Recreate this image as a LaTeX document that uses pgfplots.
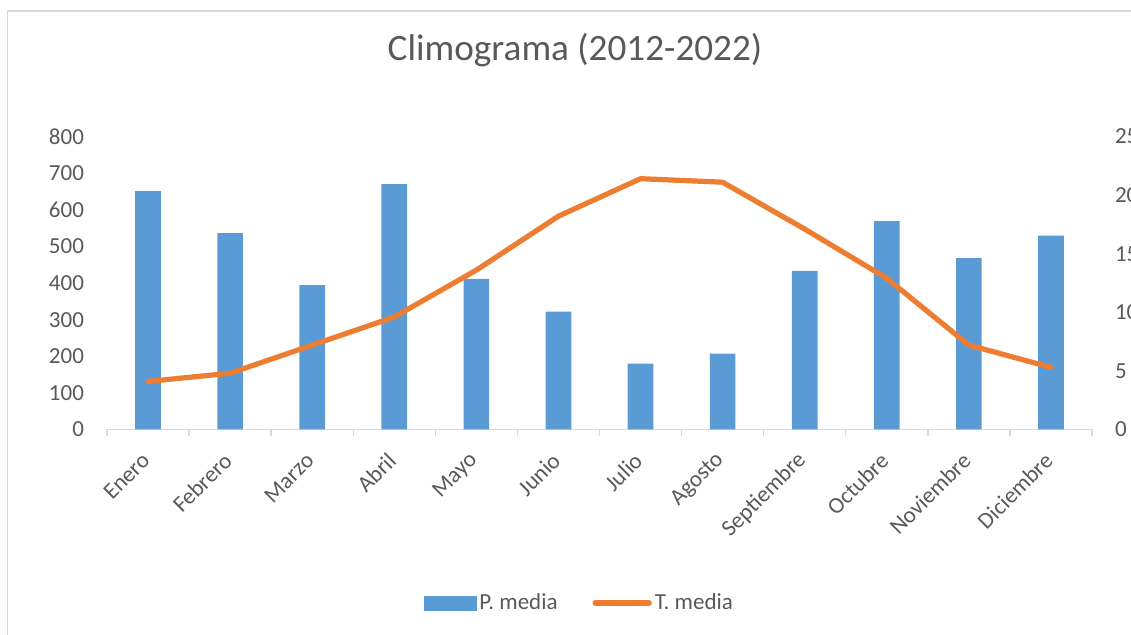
\documentclass[border=0pt]{standalone}
\usepackage{pgfplots}
\pgfplotsset{compat=1.18}
\usepackage{pgfplotstable}
\usepackage{fontspec}
\setmainfont{Carlito}
\definecolor{barblue}{HTML}{5B9BD5}
\definecolor{lineorange}{HTML}{ED7D31}
\definecolor{txtgray}{HTML}{595959}
\definecolor{axgray}{HTML}{D9D9D9}

\pgfplotstableread{
x P T
0 651 4.1
1 536 4.8
2 394 7.2
3 670 9.6
4 411 13.6
5 322 18.2
6 180 21.4
7 207 21.1
8 433 17.1
9 569 12.9
10 468 7.2
11 529 5.3
}\datatable

\begin{document}
\begin{tikzpicture}
\useasboundingbox (0,0) rectangle (565.5pt,317.5pt);
\clip (0,0) rectangle (565.5pt,317.5pt);
\draw[axgray, line width=0.7pt] (3.75pt,-5pt) -- (3.75pt,312pt) -- (570pt,312pt);
\node[txtgray, anchor=base, inner sep=0pt, font=\fontsize{18.6pt}{22pt}\selectfont] at (287.5pt, 287pt) {Climograma (2012-2022)};

\begin{axis}[
 at={(53.5pt,102.75pt)}, anchor=south west,
 scale only axis, width=492.5pt, height=146.5pt,
 xmin=-0.5, xmax=11.5, ymin=0, ymax=800,
 axis x line*=bottom, axis y line*=left,
 y axis line style={draw=none},
 x axis line style={axgray, line width=0.7pt, -},
 ytick={0,100,...,800},
 xtick={0,...,11},
 xticklabels={Enero,Febrero,Marzo,Abril,Mayo,Junio,Julio,Agosto,Septiembre,Octubre,Noviembre,Diciembre},
 major tick length=0pt,
 minor xtick={-0.5,0.5,...,11.5},
 minor tick length=3.5pt,
 tick align=outside,
 minor tick style={axgray, line width=0.7pt},
 ticklabel style={txtgray, font=\fontsize{11.5pt}{13pt}\selectfont},
 /pgf/number format/assume math mode=true,
 yticklabel style={xshift=-8pt},
 xticklabel style={rotate=45, anchor=east, xshift=-7pt, yshift=-8.9pt},
 ybar, bar width=12.8pt,
 clip=false,
]
\addplot[fill=barblue, draw=none] table[x=x,y=P]{\datatable};
\end{axis}

\begin{axis}[
 at={(53.5pt,102.75pt)}, anchor=south west,
 scale only axis, width=492.5pt, height=146.5pt,
 xmin=-0.5, xmax=11.5, ymin=0, ymax=25,
 axis x line=none, axis y line*=right,
 y axis line style={draw=none},
 ytick={0,5,...,25},
 major tick length=0pt,
 ticklabel style={txtgray, font=\fontsize{11.5pt}{13pt}\selectfont},
 /pgf/number format/assume math mode=true,
 yticklabel style={xshift=8pt},
 clip=false,
 legend columns=2,
 legend style={at={(0.480,-0.592)}, anchor=center, draw=none, fill=none,
   font=\fontsize{11.5pt}{13pt}\selectfont, text=txtgray,
   /tikz/every even column/.append style={column sep=16pt},
   nodes={inner sep=1.5pt}},
 legend cell align=left,
]
\addlegendimage{legend image code/.code={\fill[barblue] (0pt,-3.5pt) rectangle (26pt,3.5pt);}}
\addlegendentry{P. media}
\addplot[lineorange, line width=2.6pt, line join=round, line cap=round,
  legend image code/.code={\draw[lineorange, line width=2.6pt, line cap=round] (1pt,0pt) -- (28pt,0pt);}]
  table[x=x,y=T]{\datatable};
\addlegendentry{T. media}
\end{axis}
\end{tikzpicture}
\end{document}
